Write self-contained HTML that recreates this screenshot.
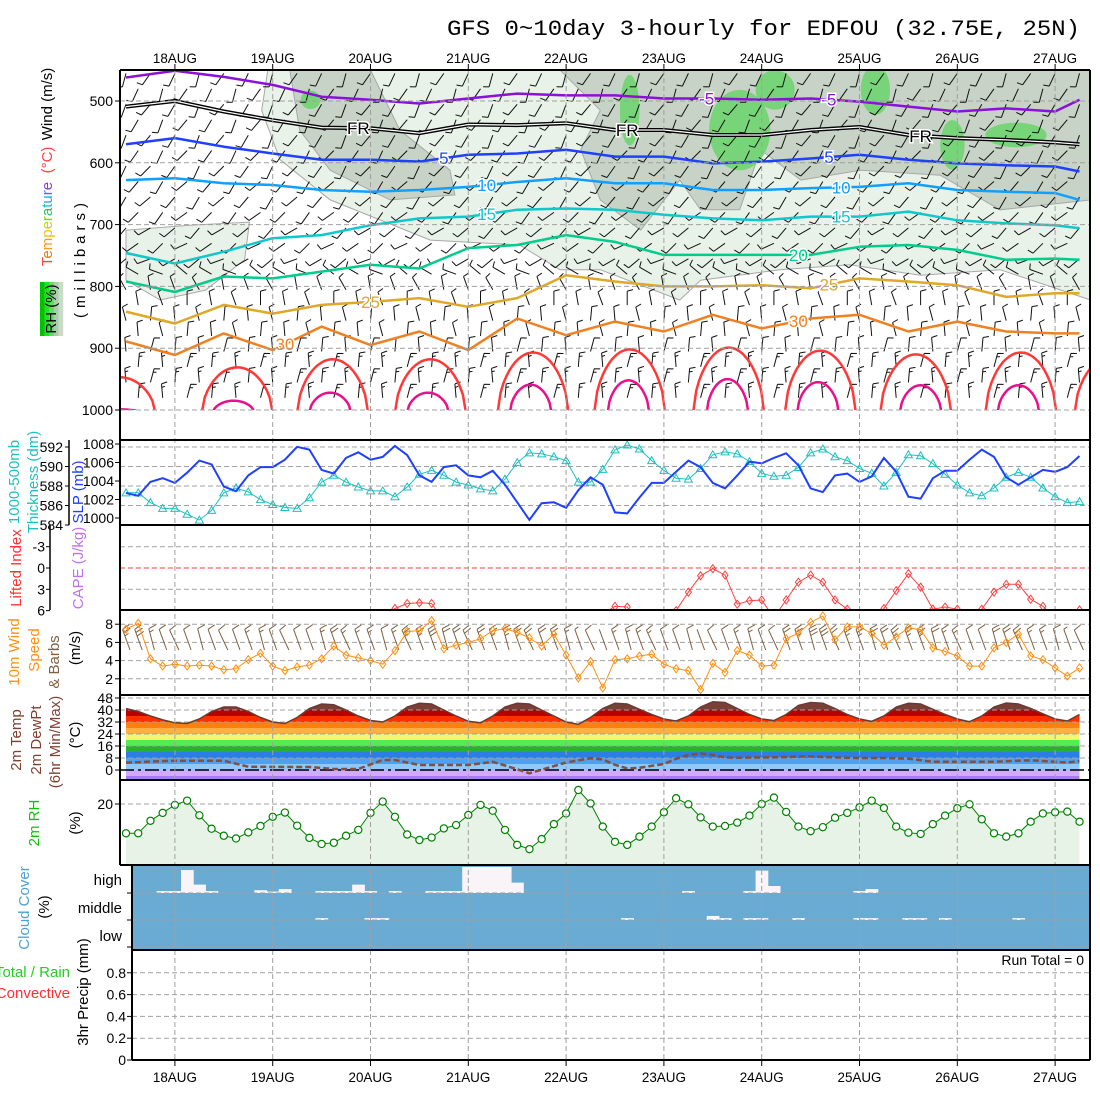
<!DOCTYPE html>
<html><head><meta charset="utf-8">
<style>
body{margin:0;background:#fff}
svg{display:block;font-family:"Liberation Sans",sans-serif}
</style></head>
<body>
<svg id="c" width="1100" height="1100" viewBox="0 0 1100 1100">
<rect x="0" y="0" width="1100" height="1100" fill="#fff"/>
<text x="1080" y="35" text-anchor="end" font-family="Liberation Mono, monospace" font-size="22" textLength="633" lengthAdjust="spacingAndGlyphs" fill="#000">GFS 0~10day 3-hourly for EDFOU (32.75E, 25N)</text>
<g id="defs"></g>
<g id="main"></g>
</svg>
<script>
// ---------- DATA ----------
const dateLabels=['18AUG','19AUG','20AUG','21AUG','22AUG','23AUG','24AUG','25AUG','26AUG','27AUG'];
const slp=[1002.7,1002.4,1003.9,1004.3,1003.8,1004.9,1006.2,1005.8,1003.4,1002.9,1004.6,1005.5,1005.5,1006.3,1007.7,1007.4,1005.2,1004.8,1006.5,1007.1,1006.3,1006.6,1007.8,1006.8,1004.6,1003.9,1005.5,1005.7,1004.6,1004.4,1005.1,1003.6,1001.7,999.8,1001.6,1001.7,1001.1,1003.0,1004.4,1003.6,1000.6,1000.5,1002.2,1003.8,1003.8,1005.0,1006.2,1005.5,1003.8,1003.2,1004.6,1006.1,1005.9,1006.5,1007.0,1005.7,1003.2,1002.8,1004.6,1004.8,1003.9,1004.5,1006.5,1005.0,1002.3,1002.1,1004.3,1005.1,1005.1,1006.3,1007.4,1006.6,1004.4,1003.6,1004.4,1005.2,1005.0,1005.5,1006.7];
const thick=[587.3,587.3,586.3,585.7,585.7,585.1,584.5,585.5,587.3,587.8,587.4,586.6,586.1,585.8,585.7,586.8,588.4,589.1,588.4,587.9,587.5,587.5,586.9,587.9,589.2,589.6,589.1,588.4,588.1,587.7,587.5,588.7,590.4,591.4,591.3,591.0,590.6,588.4,588.4,589.7,591.7,592.2,591.8,590.6,589.6,588.8,588.7,589.8,591.2,591.5,591.3,590.5,589.3,589.0,589.1,589.9,591.4,591.8,591.0,590.6,589.8,589.3,588.0,589.4,591.2,591.1,590.3,589.2,588.1,587.3,587.0,587.8,588.9,589.4,588.9,587.8,586.9,586.3,586.4];
const liftedIndex=[8,8,8,8,8,8,8,8,8,8,8,8,8,8,8,8,8,8,8,8,8,7,5.7,5.0,4.9,5.0,7.5,8,8,8,8,8,8,8,8,8,8,8,7,6.5,5.4,5.5,8,8,8,6.0,3.4,1.1,0.1,1.0,5.1,4.6,4.5,7,4.5,2.0,1.0,2.0,4.5,5.8,7,7,5.7,3.2,0.8,2.7,5.8,5.5,5.8,7,5.8,3.4,2.3,2.3,4.4,5.4,7,7,5.9];
const windSpeed=[7.45,8.1,4.2,3.4,3.6,3.4,3.5,3.4,3.0,3.1,4.1,4.8,3.4,2.9,3.3,3.5,4.2,5.6,4.6,4.3,4.0,3.6,5.1,7.2,7.3,8.4,5.3,5.7,6.0,6.4,7.3,7.5,7.1,6.5,5.6,6.9,4.6,2.1,3.9,1.0,4.1,4.2,4.5,4.7,3.6,3.1,2.9,0.8,3.7,2.7,5.1,4.6,3.4,3.5,6.4,7.0,8.2,8.9,6.3,7.7,7.7,7.0,5.7,6.6,7.6,7.4,5.4,5.0,4.5,3.4,3.4,5.4,6.0,6.9,4.5,4.1,3.2,2.3,3.2];
const windDir10m=[340,340,345,340,335,340,345,340,335,340,340,345,340,335,340,340,345,340,335,340,340,345,340,335,340,340,345,340,335,340,340,345,340,335,340,340,345,340,335,340,340,345,340,335,340,340,345,340,335,340,340,345,340,335,340,340,345,340,335,340,340,345,340,335,340,340,345,340,335,340,340,345,340,335,340,340,345,340,335];
const temp2m=[41,39,36,33.5,31.5,31,34,39,42,42,39,35,32,31,35,41,44,43.5,40,36,33,32,36,42,44.5,44,40,36,32.5,31.5,36,42,44.5,44,40,36,32,30.5,35,41,44.5,44,40.5,37,34,32.7,36,42,45.5,45,41,37,34,33,37,43,45,44.5,41,37,34,32.5,36,42,44.5,44,40.5,37,34,32.2,36,42,44.7,44,41,37.5,34,32.7,37];
const dew2m=[4.9,5.2,5.6,5.9,6.2,6.2,6.2,6.2,6.2,4.2,2.2,2.2,2.1,2.1,2.0,2.0,1.3,0.7,0.7,0.7,3.7,6.7,6.7,5.0,3.3,3.3,3.3,3.3,3.3,4.4,5.5,3.0,0.5,-2.2,0.2,2.6,5.0,6.4,7.8,7.0,3.5,1.0,1.5,2.8,4.0,7.5,10,11,10,8.5,8.2,8.3,8.4,8.5,8.7,8.9,9.0,8.7,8.4,8.2,8.0,8.0,8.0,7.8,7.6,6.5,5.5,5.5,5.5,5.5,5.5,5.5,5.8,6.2,6.5,6.0,5.5,5.0,6.0];
const rh2m=[10.4,10.4,14.5,17.1,19.7,21.1,16.3,11.9,9.6,8.7,10.7,12.8,15.8,17.2,12.9,8.9,6.9,7.3,9.6,11.5,17.1,20.8,15.8,10.0,8.2,9.0,12.0,13.1,16.4,19.7,17.8,11.5,6.6,5.2,8.5,13.4,16.9,24.6,20.2,12.6,7.6,6.6,9.3,12.6,17.3,21.9,19.9,15.6,12.6,12.8,13.9,16.2,20.0,22.1,17.4,12.6,11.1,12.4,15.5,17.1,18.9,21.1,18.7,12.6,10.6,10.2,13.4,16.2,18.6,19.9,15.0,10.4,9.3,10.4,14.2,16.9,17.3,17.5,14.2];
const cloudHigh=[0,0,0,7,7,82,30,7,0,0, 0,10,5,14,0,0,7,7,7,30, 7,0,7,0,0,7,7,7,93,93, 93,93,37,0,0,0,0,0,0,0, 0,0,0,0,0,0,7,0,0,0, 0,7,80,25,0,0,0,0,0,0, 7,14,0,0,0,0,0,0,0,0, 0,0,0,0,0,0,0,0,0];
const cloudMid=[0,0,0,0,0,0,0,0,0,0, 0,0,0,0,0,0,7,0,0,0, 7,7,0,0,0,0,0,0,0,0, 0,0,0,0,0,0,0,0,0,0, 0,7,0,0,0,0,0,0,15,7, 0,7,7,0,0,7,0,0,0,0, 7,7,0,0,7,7,0,7,0,0, 0,0,0,7,0,0,0,0,0];
const cloudLow=[0,0,0,0,0,0,0,0,0,0, 0,0,0,0,0,0,0,0,0,0, 0,0,0,0,0,0,0,0,0,0, 0,0,0,0,0,0,0,0,0,0, 0,0,0,0,0,0,0,0,0,0, 0,0,0,0,0,0,0,0,0,0, 0,0,0,0,0,0,0,0,0,0, 0,0,0,0,0,0,0,0,0];
const precip=[0,0,0,0,0,0,0,0,0,0, 0,0,0,0,0,0,0,0,0,0, 0,0,0,0,0,0,0,0,0,0, 0,0,0,0,0,0,0,0,0,0, 0,0,0,0,0,0,0,0,0,0, 0,0,0,0,0,0,0,0,0,0, 0,0,0,0,0,0,0,0,0,0, 0,0,0,0,0,0,0,0,0];
const isoIdx=[0,4,8,12,16,20,24,28,32,36,40,44,48,52,56,60,64,68,72,76,78];
const isoM5=[462,451,461,474,493,498,504,496,488,491,491,496,496,498,496,501,509,517,512,517,498];
const isoFR=[509,500,517,531,543,544,552,538,539,536,547,547,555,555,547,542,555,560,563,567,570];
const iso5=[570,560,574,585,595,595,598,587,585,579,590,590,601,598,593,587,595,601,604,606,614];
const iso10=[628,625,633,636,644,647,644,639,631,625,633,633,644,644,641,639,633,644,647,649,660];
const iso15=[746,763,744,722,717,701,690,687,676,674,676,684,690,693,687,687,679,693,698,701,706];
const iso20=[792,809,784,787,776,765,771,738,733,717,728,749,749,749,749,736,733,741,757,755,757];
const iso25=[841,860,830,844,830,825,819,833,819,782,792,800,800,798,803,787,792,798,817,811,811];
const iso30=[889,911,876,903,865,895,873,903,852,879,857,873,846,868,852,846,873,857,873,876,876];
const dome35Center=[-0.5,9.1,16.9,24.9,33.3,41.2,49.3,56.8,64.6,73.2,80.5];
const dome35Top=[943,927,914,914,903,898,895,900,906,903,911];
const dome40Center=[-0.5,8.8,16.7,24.7,33.1,41.1,49.2,56.6,65,73];
const dome40Top=[995,981,968,968,955,948,946,951,956,956];
const rhLight1=[[11.6,450],[78.9,450],[78.9,822],[71.5,773],[65,782],[59.2,765],[53.5,773],[47,790],[45.3,822],[38.8,773],[35.5,773],[32.2,733],[24.9,725],[16.7,660],[12.6,595],[11.1,515]];
const rhLight2=[[0,709],[5.2,701],[10.1,696],[9.7,757],[6.5,806],[2.8,822],[0,790]];
const rhMid1=[[13.4,450],[20,450],[22.4,547],[26.5,612],[26.9,652],[21.6,660],[16.7,612],[14.2,547]];
const rhMid2=[[35.5,450],[78.9,450],[78.9,660],[71.5,676],[66.6,620],[60.1,612],[55.2,628],[51.9,579],[50.2,676],[47,676],[45.3,628],[42.1,709],[38.8,660],[37.2,579],[38.8,515]];
const rhHighBlobs=[[15.1,498,0.8,15],[41.2,515,0.8,57],[50.2,547,2.5,65],[53.1,482,1.6,32],[61.3,482,1.2,40],[67.6,571,1,40],[72.8,555,2.5,20]];
const barbLevels=[465,490,515,540,565,590,615,640,665,690,715,740,765,790,815,840,865,890,915,940,965,990];
const barbDir=[205,205,210,210,210,215,215,220,220,225,230,235,240,300,340,350,355,355,5,5,5,5];
const barbSpd=[6,6,6,6,6,6,5,5,5,5,5,5,5,5,5,6,6,7,7,8,8,8];
const pTicks=[500,600,700,800,900,1000];
const slpTicks=[1000,1002,1004,1006,1008];
const thTicks=[584,586,588,590,592];
const liTicks=[-3,0,3,6];
const wTicks=[2,4,6,8];
const tTicks=[0,8,16,24,32,40,48];
const rhTicks=[20];
const prTicks=[0,0.2,0.4,0.6,0.8];

// ---------- SCALES ----------
const X0=126, DX=97.8/8;
function xT(i){return X0+i*DX;}
function yP(p){return 101+(p-500)*0.618;}
function ySlp(v){return 518-(v-1000)*9.25;}
function yTh(v){return 525-(v-584)*9.75;}
function yLI(v){return 568+v*7.1;}
function yW(v){return 697-v*9.1;}
function yT(v){return 770-v*1.5;}
function yRH(v){return 865-v*3.05;}
function yPr(v){return 1060-v*109;}

const NS='http://www.w3.org/2000/svg';
const root=document.getElementById('main');
const defs=document.getElementById('defs');
function mk(tag,attrs,parent){const e=document.createElementNS(NS,tag);for(const k in attrs)e.setAttribute(k,attrs[k]);(parent||root).appendChild(e);return e;}
function pts(arr){return arr.map(p=>p[0].toFixed(1)+','+p[1].toFixed(1)).join(' ');}

const dd=mk('defs',{},defs);
const cpM=mk('clipPath',{id:'clipMain'},dd); mk('rect',{x:120,y:70,width:970,height:340},cpM);
const cpLI=mk('clipPath',{id:'clipLI'},dd); mk('rect',{x:120,y:525,width:970,height:85},cpLI);
const cpT=mk('clipPath',{id:'clipTemp'},dd);
const tArea=[];temp2m.forEach((v,i)=>tArea.push([xT(i),yT(v)]));tArea.push([xT(temp2m.length-1),780],[xT(0),780]);
mk('polygon',{points:pts(tArea)},cpT);

// ---------- MAIN PANEL ----------
const gMain=mk('g',{'clip-path':'url(#clipMain)'});


function rhPoly(arr,fill,name){const e=mk('polygon',{points:pts(arr.map(a=>[xT(a[0]),yP(a[1])])),fill:fill,stroke:'#a8a8a8','stroke-width':1},gMain);

}
rhPoly(rhLight1,'#e8f2e8','rh-30-region');
rhPoly(rhLight2,'#e8f2e8','rh-30-region');
rhPoly(rhMid1,'#c6d3c6','rh-50-region');
rhPoly(rhMid2,'#c6d3c6','rh-50-region');
rhHighBlobs.forEach(b=>{const e=mk('ellipse',{cx:xT(b[0]),cy:yP(b[1]),rx:b[2]*DX,ry:b[3]*0.618,fill:'#78d478'},gMain);

});
pTicks.forEach(p=>{const e=mk('line',{x1:120,x2:1090,y1:yP(p),y2:yP(p),stroke:'#a0a0a0','stroke-dasharray':'5,3'});

});
function barb(g,x,y,dir,spd,L,color,BL){BL=BL||8;const r=dir*Math.PI/180;const sx=Math.sin(r),sy=-Math.cos(r);const ex=x+sx*L,ey=y+sy*L;let d='M'+x.toFixed(1)+' '+y.toFixed(1)+'L'+ex.toFixed(1)+' '+ey.toFixed(1);
const br=r+Math.PI*0.42;const bx=Math.sin(br),by=-Math.cos(br);let n=Math.floor(spd/5),half=(spd%5)>=2.5;let pos=0;
for(let k=0;k<n;k++){const px=ex-sx*pos,py=ey-sy*pos;d+='M'+px.toFixed(1)+' '+py.toFixed(1)+'l'+(bx*BL).toFixed(1)+' '+(by*BL).toFixed(1);pos+=3.5;}
if(half){const px=ex-sx*pos,py=ey-sy*pos;d+='M'+px.toFixed(1)+' '+py.toFixed(1)+'l'+(bx*BL*0.55).toFixed(1)+' '+(by*BL*0.55).toFixed(1);}
const e=mk('path',{d:d,fill:'none',stroke:color,'stroke-width':1},g);return e;}
barbLevels.forEach((lv,li)=>{for(let i=li%2;i<79;i+=2){const e=barb(gMain,xT(i),yP(lv)-6,barbDir[li]+((i%3)-1)*10,barbSpd[li],14,'#111',6);

}});
function isoLine(vals,color,w,name){const d=vals.map((p,k)=>(k?'L':'M')+xT(isoIdx[k]).toFixed(1)+' '+yP(p).toFixed(1)).join(' ');
const e=mk('path',{d:d,fill:'none',stroke:color,'stroke-width':w,'stroke-linejoin':'round'},gMain);

return d;}
isoLine(isoM5,'#8c10d8',2.5,'isotherm-minus5');
const frd=isoLine(isoFR,'#000',4,'isotherm-freezing');
const fri=mk('path',{d:frd,fill:'none',stroke:'#fff','stroke-width':1.2},gMain);


isoLine(iso5,'#2040ff',2.5,'isotherm-5');
isoLine(iso10,'#10a0ff',2.5,'isotherm-10');
isoLine(iso15,'#10c8cc',2.5,'isotherm-15');
isoLine(iso20,'#00cc8c',2.5,'isotherm-20');
isoLine(iso25,'#e0a828',2.5,'isotherm-25');
isoLine(iso30,'#f08020',2.5,'isotherm-30');
function domes(centers,tops,hw,color,name){centers.forEach((c,k)=>{let d='';for(let s=0;s<=24;s++){const t=-1+s/12;const f=Math.pow(Math.max(0,1-t*t),0.6);const p=1000-(1000-tops[k])*f;d+=(s?'L':'M')+xT(c+t*hw).toFixed(1)+' '+yP(p+4).toFixed(1);}
const e=mk('path',{d:d,fill:'none',stroke:color,'stroke-width':2.5},gMain);

});}
domes(dome35Center,dome35Top,2.9,'#ff3838','isotherm-35');
domes(dome40Center,dome40Top,1.7,'#e8108c','isotherm-40');
function isoLabel(vals,idx,txt,color){let k=0;while(k<isoIdx.length-2&&isoIdx[k+1]<idx)k++;const f=(idx-isoIdx[k])/(isoIdx[k+1]-isoIdx[k]);const p=vals[k]+(vals[k+1]-vals[k])*f;
const e=mk('text',{x:xT(idx),y:yP(p)+6,'text-anchor':'middle','font-size':17,fill:color,stroke:'#fff','stroke-width':3,'paint-order':'stroke'},gMain);e.textContent=txt;

}
[[isoM5,47.5,'-5','#8c10d8'],[isoM5,57.5,'-5','#8c10d8'],[isoFR,19,'FR','#000'],[isoFR,41,'FR','#000'],[isoFR,65,'FR','#000'],[iso5,26,'5','#2040ff'],[iso5,57.5,'5','#2040ff'],[iso10,29.5,'10','#10a0ff'],[iso10,58.5,'10','#10a0ff'],[iso15,29.5,'15','#10c8cc'],[iso15,58.5,'15','#10c8cc'],[iso20,55,'20','#00cc8c'],[iso25,20,'25','#e0a828'],[iso25,57.5,'25','#e0a828'],[iso30,13,'30','#f08020'],[iso30,55,'30','#f08020']].forEach(a=>isoLabel(a[0],a[1],a[2],a[3]));

// ---------- SLP / THICKNESS ----------
thTicks.slice(1).forEach(v=>{const e=mk('line',{x1:120,x2:1090,y1:yTh(v),y2:yTh(v),stroke:'#a0a0a0','stroke-dasharray':'5,3'});

});
function series(vals,yf,color,w,name,clip){const d=vals.map((v,i)=>(i?'L':'M')+xT(i).toFixed(1)+' '+yf(v).toFixed(1)).join(' ');const a={d:d,fill:'none',stroke:color,'stroke-width':w};if(clip)a['clip-path']=clip;const e=mk('path',a);

return e;}
series(thick,yTh,'#20c0c0',1,'thickness-line');
thick.forEach((v,i)=>{const x=xT(i),y=yTh(v);const e=mk('polygon',{points:`${x},${y-4} ${x-4},${y+3} ${x+4},${y+3}`,fill:'none',stroke:'#20c0c0','stroke-width':1});

});
series(slp,ySlp,'#2040ff',2,'slp-line');

// ---------- LI ----------
[-3,3].forEach(v=>{const e=mk('line',{x1:120,x2:1090,y1:yLI(v),y2:yLI(v),stroke:'#a0a0a0','stroke-dasharray':'5,3'});

});
const z0=mk('line',{x1:120,x2:1090,y1:yLI(0),y2:yLI(0),stroke:'#ff4040','stroke-dasharray':'5,3'});


series(liftedIndex,yLI,'#ff4040',1,'lifted-index-line','url(#clipLI)');
liftedIndex.forEach((v,i)=>{if(v>6.2)return;const x=xT(i),y=yLI(v);const e=mk('polygon',{points:`${x},${y-4} ${x+3},${y} ${x},${y+4} ${x-3},${y}`,fill:'none',stroke:'#ff4040','clip-path':'url(#clipLI)'});

});

// ---------- 10m WIND ----------
wTicks.forEach(v=>{const e=mk('line',{x1:120,x2:1090,y1:yW(v),y2:yW(v),stroke:'#a0a0a0','stroke-dasharray':'5,3'});

});
windSpeed.forEach((v,i)=>{const e=barb(root,xT(i)+4,650,windDir10m[i],v*1.9,22,'#806040');

});
series(windSpeed,yW,'#ff9010',1,'wind-speed-line');
windSpeed.forEach((v,i)=>{const x=xT(i),y=yW(v);const e=mk('polygon',{points:`${x},${y-4} ${x+3},${y} ${x},${y+4} ${x-3},${y}`,fill:'none',stroke:'#ff9010'});

});

// ---------- TEMPERATURE ----------
const bands=[[-20,-4,'#a87cf0'],[-4,0,'#d2aaff'],[0,4,'#90c8f8'],[4,8,'#50a0f0'],[8,12,'#2a7ee6'],[12,16,'#28b030'],[16,20,'#50ee50'],[20,24,'#f0f870'],[24,28,'#ffb040'],[28,32,'#ff8010'],[32,36,'#ff3000'],[36,40,'#b80000'],[40,60,'#7a4038']];
const gT=mk('g',{'clip-path':'url(#clipTemp)'});


bands.forEach(b=>{const e=mk('rect',{x:120,width:970,y:yT(b[1]),height:yT(b[0])-yT(b[1]),fill:b[2]},gT);

});
tTicks.slice(1).forEach(v=>{const e=mk('line',{x1:120,x2:1090,y1:yT(v),y2:yT(v),stroke:'#a0a0a0','stroke-dasharray':'5,3'});

});
const zl=mk('line',{x1:120,x2:1090,y1:yT(0),y2:yT(0),stroke:'#000','stroke-width':1.5,'stroke-dasharray':'14,4,3,4'});


series(temp2m,yT,'#6a3a30',1.5,'temperature-line');
const dl=series(dew2m,yT,'#805040',2.5,'dewpoint-line');
dl.setAttribute('stroke-dasharray','6,3');

// ---------- RH ----------
const rhA=rh2m.map((v,i)=>[xT(i),yRH(v)]);rhA.push([xT(78),865],[xT(0),865]);
const rhf=mk('polygon',{points:pts(rhA),fill:'#e8f3e8'});


rhTicks.forEach(v=>{const e=mk('line',{x1:120,x2:1090,y1:yRH(v),y2:yRH(v),stroke:'#a0a0a0','stroke-dasharray':'5,3'});

});
series(rh2m,yRH,'#008000',1,'rh-line');
rh2m.forEach((v,i)=>{const e=mk('circle',{cx:xT(i),cy:yRH(v),r:3.6,fill:'#fff',stroke:'#008000','stroke-width':1.2});

});

// ---------- CLOUD ----------
const cbg=mk('rect',{x:132,y:865,width:958,height:85,fill:'#6aabd4'});


function cloudBars(vals,base,h,name){vals.forEach((v,i)=>{if(!v)return;const e=mk('rect',{x:xT(i)-DX/2,width:DX+0.5,y:base-v/100*h,height:v/100*h,fill:'#f8f4f8'});

});}
cloudBars(cloudHigh,893,28,'cloud-high-bar');
cloudBars(cloudMid,920,27,'cloud-middle-bar');
cloudBars(cloudLow,947,27,'cloud-low-bar');
[893,920,947].forEach(y=>{const e=mk('line',{x1:132,x2:1090,y1:y,y2:y,stroke:'#a0a0a0','stroke-dasharray':'5,3'});

});

// ---------- PRECIP ----------
prTicks.slice(1).forEach(v=>{const e=mk('line',{x1:132,x2:1090,y1:yPr(v),y2:yPr(v),stroke:'#a0a0a0','stroke-dasharray':'5,3'});

});
precip.forEach((v,i)=>{if(!v)return;const e=mk('rect',{x:xT(i)-DX/2,width:DX,y:yPr(v),height:1060-yPr(v),fill:'#20d020'});

});

// ---------- DATE GRID ----------
dateLabels.forEach((lab,k)=>{const x=xT(4+8*k);
const g=mk('line',{x1:x,x2:x,y1:70,y2:1060,stroke:'#a0a0a0','stroke-dasharray':'5,3'});


const t1=mk('text',{x:x,y:63,'text-anchor':'middle','font-size':14,textLength:44,lengthAdjust:'spacingAndGlyphs'});t1.textContent=lab;


const t2=mk('text',{x:x,y:1082,'text-anchor':'middle','font-size':14,textLength:44,lengthAdjust:'spacingAndGlyphs'});t2.textContent=lab;


mk('line',{x1:x,x2:x,y1:64,y2:70,stroke:'#000'});mk('line',{x1:x,x2:x,y1:1060,y2:1066,stroke:'#000'});});

// ---------- FRAMES ----------
function ln(x1,y1,x2,y2,w,name){const e=mk('line',{x1:x1,y1:y1,x2:x2,y2:y2,stroke:'#000','stroke-width':w});

}
ln(120,70,1090,70,2,'frame-top');ln(120,70,120,865,2,'frame-left');ln(1090,70,1090,1060,2,'frame-right');
[440,525,610,695,780,865].forEach(y=>ln(120,y,1090,y,2,'panel-divider'));
ln(132,865,132,1060,2,'frame-left-lower');ln(132,950,1090,950,2,'panel-divider');ln(132,1060,1090,1060,2,'frame-bottom');
ln(69,440,69,525,1.5,'thickness-axis');ln(50,525,50,610,1.5,'li-axis');

// ---------- TICK LABELS ----------
function tl(x,y,txt,name,size){const e=mk('text',{x:x,y:y+5,'text-anchor':'end','font-size':size||14});e.textContent=txt;

}
pTicks.forEach(p=>{tl(113,yP(p),p,'pressure-tick-label');mk('line',{x1:115,x2:120,y1:yP(p),y2:yP(p),stroke:'#000'});});
slpTicks.forEach(v=>{tl(114,ySlp(v),v,'slp-tick-label');mk('line',{x1:115,x2:120,y1:ySlp(v),y2:ySlp(v),stroke:'#000'});});
thTicks.forEach(v=>{tl(63,yTh(v),v,'thickness-tick-label');mk('line',{x1:65,x2:69,y1:yTh(v),y2:yTh(v),stroke:'#000'});});
liTicks.forEach(v=>{tl(45,yLI(v),v,'li-tick-label');mk('line',{x1:46,x2:50,y1:yLI(v),y2:yLI(v),stroke:'#000'});});
wTicks.forEach(v=>{tl(113,yW(v),v,'wind-tick-label');mk('line',{x1:115,x2:120,y1:yW(v),y2:yW(v),stroke:'#000'});});
tTicks.forEach(v=>{tl(113,yT(v),v,'temp-tick-label');mk('line',{x1:115,x2:120,y1:yT(v),y2:yT(v),stroke:'#000'});});
rhTicks.forEach(v=>{tl(113,yRH(v),v,'rh-tick-label');mk('line',{x1:115,x2:120,y1:yRH(v),y2:yRH(v),stroke:'#000'});});
prTicks.forEach(v=>{tl(126,yPr(v),v,'precip-tick-label');mk('line',{x1:127,x2:132,y1:yPr(v),y2:yPr(v),stroke:'#000'});});
[['high',880],['middle',908],['low',936]].forEach(a=>tl(122,a[1],a[0],'cloud-level-label',15));
[893,920,947].forEach(y=>mk('line',{x1:127,x2:132,y1:y,y2:y,stroke:'#000'}));

// ---------- AXIS TITLES ----------
function vt(x,y,txt,color,name,size,extra){const e=mk('text',{transform:`translate(${x},${y}) rotate(-90)`,'text-anchor':'middle','font-size':size||15,fill:color});e.textContent=txt;if(extra)for(const k in extra)e.setAttribute(k,extra[k]);

return e;}
vt(52,104,'Wind (m/s)','#000','wind-axis-title');
vt(52,160,'(°C)','#ff4040','temp-unit-title');
const tt=vt(52,224,'','#000','temperature-axis-title');
const tcol=['#ff4040','#ff7020','#ff9a20','#f0c020','#c8d020','#80d030','#30c060','#20c0c0','#20a0e0','#4070ff','#8040e0'];
'Temperature'.split('').forEach((ch,k)=>{const s=document.createElementNS(NS,'tspan');s.setAttribute('fill',tcol[k]);s.textContent=ch;tt.appendChild(s);});
const rhb=mk('g',{});


['#00c000','#20e020','#70d070','#a8d0a8','#c8dcc8'].forEach((c,k)=>mk('rect',{x:40+k*4.6,y:282,width:4.8,height:54,fill:c},rhb));
vt(56,309,'RH (%)','#000','rh-legend-title');
vt(85,258,'(millibars)','#000','pressure-axis-title',15,{'letter-spacing':'5'});
vt(19,482,'1000-500mb','#20c0c0','thickness-axis-title-1');
vt(38,482,'Thickness (dm)','#20c0c0','thickness-axis-title-2');
vt(83,492,'SLP (mb)','#2040ff','slp-axis-title');
vt(21,568,'Lifted Index','#ff3030','li-axis-title');
vt(83,568,'CAPE (J/kg)','#c070f0','cape-axis-title');
vt(19,652,'10m Wind','#ff9010','wind-axis-title-1');
vt(39,650,'Speed','#ff9010','wind-axis-title-2');
vt(59,662,'& Barbs','#806040','wind-axis-title-3');
vt(80,648,'(m/s)','#000','wind-unit-title');
vt(21,740,'2m Temp','#804030','temp2m-axis-title');
vt(41,740,'2m DewPt','#804030','dewpt-axis-title');
vt(60,742,'(6hr Min/Max)','#804030','minmax-axis-title');
vt(80,735,'(°C)','#000','temp2m-unit-title');
vt(39,823,'2m RH','#10c010','rh2m-axis-title');
vt(80,823,'(%)','#000','rh2m-unit-title');
vt(29,908,'Cloud Cover','#50a0d0','cloud-axis-title');
vt(49,907,'(%)','#000','cloud-unit-title');
vt(88,992,'3hr Precip (mm)','#000','precip-axis-title');
const t1=mk('text',{x:70,y:977,'text-anchor':'end','font-size':15,fill:'#20d020'});t1.textContent='Total / Rain';


const t2=mk('text',{x:70,y:998,'text-anchor':'end','font-size':15,fill:'#ff3030'});t2.textContent='Convective';


const rt=mk('rect',{x:975,y:951,width:112,height:17,fill:'#fff'});


const t3=mk('text',{x:1084,y:965,'text-anchor':'end','font-size':14});t3.textContent='Run Total = '+precip.reduce((a,b)=>a+b,0);


</script>
</body></html>
